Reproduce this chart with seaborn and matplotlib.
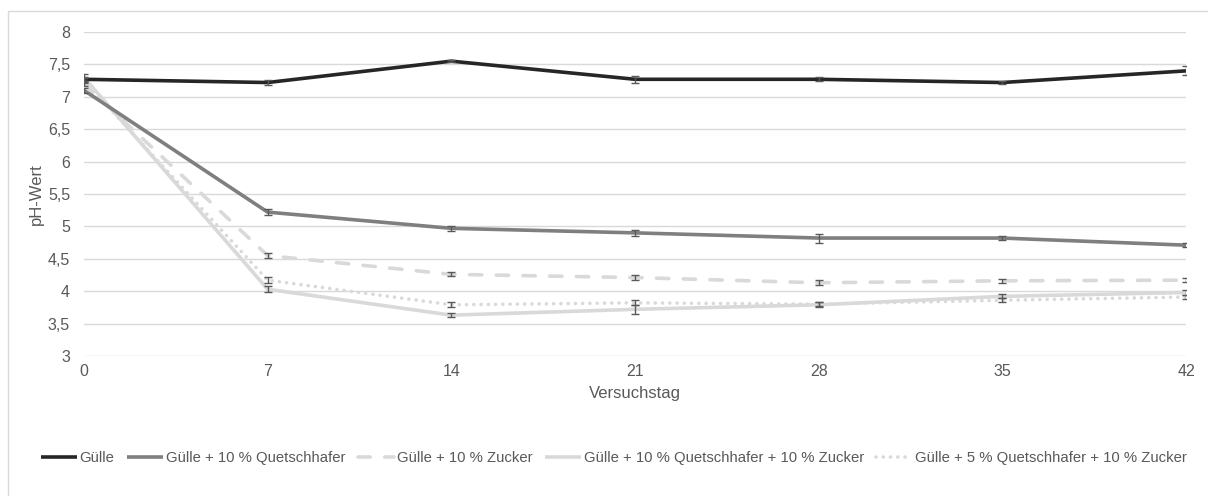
import matplotlib
matplotlib.use("Agg")
import matplotlib.pyplot as plt
import seaborn as sns
import pandas as pd
from matplotlib.patches import Rectangle

# Versuchstage and measured pH values per treatment
days = [0, 7, 14, 21, 28, 35, 42]
treatments = [
    "Gülle",
    "Gülle + 10 % Quetschhafer",
    "Gülle + 10 % Zucker",
    "Gülle + 10 % Quetschhafer + 10 % Zucker",
    "Gülle + 5 % Quetschhafer + 10 % Zucker",
]
ph_guelle = [7.27, 7.22, 7.55, 7.27, 7.27, 7.22, 7.40]
ph_qh = [7.10, 5.22, 4.97, 4.90, 4.82, 4.82, 4.71]
ph_zucker = [7.20, 4.55, 4.26, 4.21, 4.13, 4.16, 4.17]
ph_qh_zucker = [7.30, 4.03, 3.63, 3.72, 3.79, 3.92, 3.98]
ph_5qh_zucker = [7.25, 4.17, 3.79, 3.82, 3.80, 3.86, 3.91]

# standard deviations
sd_guelle = [0.04, 0.04, 0.02, 0.05, 0.03, 0.03, 0.07]
sd_qh = [0.04, 0.05, 0.04, 0.05, 0.07, 0.03, 0.03]
sd_zucker = [0.04, 0.04, 0.03, 0.04, 0.04, 0.03, 0.03]
sd_qh_zucker = [0.05, 0.05, 0.03, 0.07, 0.04, 0.03, 0.04]
sd_5qh_zucker = [0.04, 0.05, 0.04, 0.04, 0.03, 0.03, 0.03]

values = [ph_guelle, ph_qh, ph_zucker, ph_qh_zucker, ph_5qh_zucker]
errors = [sd_guelle, sd_qh, sd_zucker, sd_qh_zucker, sd_5qh_zucker]

df = pd.DataFrame(
    [(t, d, v) for t, vals in zip(treatments, values) for d, v in zip(days, vals)],
    columns=["Variante", "Versuchstag", "pH"],
)

colors = ["#262626", "#7f7f7f", "#d9d9d9", "#d9d9d9", "#d9d9d9"]
linestyles = ["-", "-", (0, (3.4, 4.0)), "-", (0, (0.01, 2.0))]
capstyles = ["butt", "butt", "round", "butt", "round"]

sns.set_theme(style="white")
plt.rcParams["font.family"] = ["Liberation Sans", "DejaVu Sans"]

fig = plt.figure(figsize=(12.08, 4.96), dpi=100)
ax = fig.add_axes([0.0695, 0.2823, 0.9123, 0.6532])

# outer chart frame
fig.patches.append(Rectangle((8 / 1208, -0.01), 1.0, 1 - 11 / 496 + 0.01,
                             transform=fig.transFigure, fill=False,
                             edgecolor="#d9d9d9", linewidth=1.0, zorder=0))

for i, t in enumerate(treatments):
    sub = df[df["Variante"] == t]
    sns.lineplot(data=sub, x="Versuchstag", y="pH", ax=ax, color=colors[i],
                 linewidth=2.6, linestyle=linestyles[i], label=t,
                 zorder=3 + (5 - i) * 0.1,
                 solid_capstyle="butt", dash_capstyle=capstyles[i])
    ax.errorbar(days, values[i], yerr=errors[i], fmt="none", ecolor="#595959",
                elinewidth=1.0, capsize=3, capthick=1.0, zorder=4)

ax.set_xlim(0, 42)
ax.set_ylim(3, 8)
ax.set_xticks(days)
ax.set_yticks([3, 3.5, 4, 4.5, 5, 5.5, 6, 6.5, 7, 7.5, 8])
ax.set_yticklabels([f"{v:g}".replace(".", ",") for v in ax.get_yticks()])
ax.grid(axis="y", color="#d9d9d9", linewidth=1.0)
ax.grid(axis="x", visible=False)
for s in ax.spines.values():
    s.set_visible(False)
ax.tick_params(axis="both", colors="#595959", labelsize=11.5, length=0, pad=6)
ax.tick_params(axis="y", pad=10)
ax.set_xlabel("Versuchstag", color="#595959", fontsize=12, labelpad=5)
ax.set_ylabel("pH-Wert", color="#595959", fontsize=12, labelpad=3)

handles, labels = ax.get_legend_handles_labels()
ax.get_legend().remove()
leg = fig.legend(handles, labels, loc="center",
                 bbox_to_anchor=(614 / 1208, 1 - 458 / 496),
                 ncol=5, frameon=False, fontsize=10.7, handlelength=2.4,
                 handletextpad=0.2, columnspacing=0.85)
for txt in leg.get_texts():
    txt.set_color("#595959")

fig.savefig("out.png", dpi=100)
